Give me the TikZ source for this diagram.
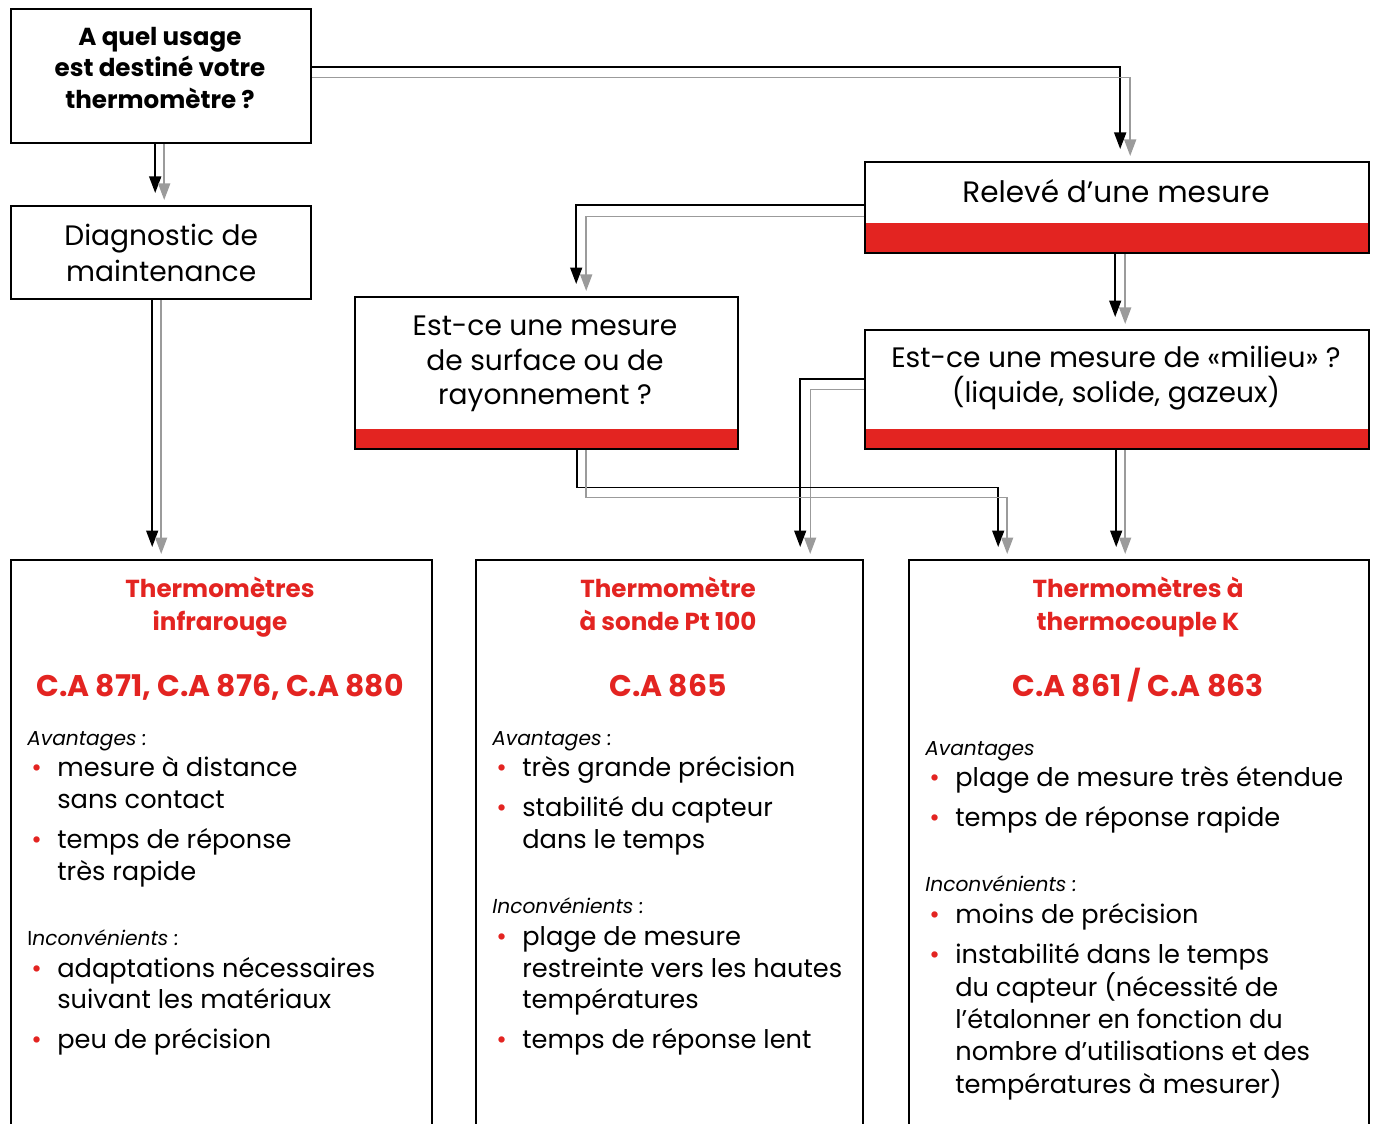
\documentclass[tikz,border=0pt]{standalone}
\usepackage{fontspec}
\setmainfont{Poppins}
\usetikzlibrary{arrows.meta,calc}
\definecolor{rouge}{RGB}{227,36,33}
\definecolor{grisfl}{RGB}{155,155,155}
\newcommand{\puce}{\hspace*{0.08cm}\textcolor{rouge}{\textbullet}}
\newcommand{\entete}{\fontsize{11.5}{18}\selectfont\itshape}
\newcommand{\ecart}{4.5pt}
\newcommand{\grandecart}{19pt}
\begin{document}
\begin{tikzpicture}[x=0.02cm, y=-0.02cm,
    boite/.style={draw, line width=1.4pt, anchor=north west, inner sep=0pt, align=center},
    bande/.style={path picture={\fill[rouge] (path picture bounding box.south west)
        rectangle ([yshift=#1]path picture bounding box.south east);}},
    texteboite/.style={align=center, inner sep=0pt, font=\fontsize{16}{19.8}\selectfont},
    titre/.style={anchor=base, align=center, inner sep=0pt, text=rouge,
        font=\fontsize{14}{18.7}\selectfont\bfseries},
    modele/.style={anchor=base, inner sep=0pt, text=rouge, font=\fontsize{17}{19}\selectfont\bfseries},
    liste/.style={anchor=base west, inner sep=0pt, font=\fontsize{14.6}{18.1}\selectfont},
    fleche/.style={-{Triangle[width=0.24cm, length=0.33cm]}},
    noir/.style={fleche, black, line width=0.9pt, shorten >=0.24cm},
    gris/.style={fleche, grisfl, line width=0.8pt, shorten >=0.1cm}]
  \useasboundingbox (0,0) rectangle (1375,1124);

  % questions
  \node[boite, minimum width=6cm, minimum height=2.68cm] (q) at (10,8) {};
  \node[align=center, inner sep=0pt, font=\fontsize{14}{18.1}\selectfont\bfseries] (qT) at (160,68)
    {A quel usage\\est destiné votre\\thermomètre ?};
  \node[boite, minimum width=6cm, minimum height=1.86cm,
    font=\fontsize{16}{20.4}\selectfont] (diag) at (10,205)
    {Diagnostic de\\maintenance};
  \node[boite, bande=0.6cm, minimum width=10.08cm, minimum height=1.82cm] (releve) at (864,161) {};
  \node[texteboite, font=\fontsize{16.8}{19.8}\selectfont] (releveT) at (1116,191) {Relevé d’une mesure};
  \node[boite, bande=0.4cm, minimum width=7.66cm, minimum height=3.04cm] (surface) at (354,296) {};
  \node[texteboite] (surfaceT) at (545,364)
    {Est-ce une mesure\\de surface ou de\\rayonnement ?};
  \node[boite, bande=0.4cm, minimum width=10.08cm, minimum height=2.38cm] (milieu) at (864,329) {};
  \node[texteboite] (milieuT) at (1116,378)
    {Est-ce une mesure de «milieu» ?\\(liquide, solide, gazeux)};

  % thermometres
  \node[boite, minimum width=8.42cm, minimum height=12.8cm] (ir) at (10,559) {};
  \node[boite, minimum width=7.74cm, minimum height=12.8cm] (pt) at (475,559) {};
  \node[boite, minimum width=9.2cm, minimum height=12.8cm] (tc) at (908,559) {};

  \node[titre] (irT) at (220,630) {Thermomètres\\infrarouge};
  \node[titre] (ptT) at (668,630) {Thermomètre\\à sonde Pt 100};
  \node[titre] (tcT) at (1138,630) {Thermomètres à\\thermocouple K};
  \node[modele] (irM) at (220,696) {C.A 871, C.A 876, C.A 880};
  \node[modele] (ptM) at (668,696) {C.A 865};
  \node[modele] (tcM) at (1138,696) {C.A 861 / C.A 863};

  \node[liste] (irL) at (27,745) {%
    \begin{tabular}[t]{@{}p{0.6cm}@{}l@{}}
      \multicolumn{2}{@{}l@{}}{\entete Avantages :}\\
      \puce & mesure à distance\\
            & sans contact\\[\ecart]
      \puce & temps de réponse\\
            & très rapide\\[\grandecart]
      \multicolumn{2}{@{}l@{}}{\entete {\upshape I}nconvénients :}\\
      \puce & adaptations nécessaires\\
            & suivant les matériaux\\[\ecart]
      \puce & peu de précision
    \end{tabular}};
  \node[liste] (ptL) at (492,745) {%
    \begin{tabular}[t]{@{}p{0.6cm}@{}l@{}}
      \multicolumn{2}{@{}l@{}}{\entete Avantages :}\\
      \puce & très grande précision\\[\ecart]
      \puce & stabilité du capteur\\
            & dans le temps\\[\grandecart]
      \multicolumn{2}{@{}l@{}}{\entete Inconvénients :}\\
      \puce & plage de mesure\\
            & restreinte vers les hautes\\
            & températures\\[\ecart]
      \puce & temps de réponse lent
    \end{tabular}};
  \node[liste] (tcL) at (925,755) {%
    \begin{tabular}[t]{@{}p{0.6cm}@{}l@{}}
      \multicolumn{2}{@{}l@{}}{\entete Avantages}\\
      \puce & plage de mesure très étendue\\[\ecart]
      \puce & temps de réponse rapide\\[\grandecart]
      \multicolumn{2}{@{}l@{}}{\entete Inconvénients :}\\
      \puce & moins de précision\\[\ecart]
      \puce & instabilité dans le temps\\
            & du capteur (nécessité de\\
            & l’étalonner en fonction du\\
            & nombre d’utilisations et des\\
            & températures à mesurer)
    \end{tabular}};

  % fleches doubles
  \draw[noir] ($(q.south)+(-6,0)$) -- ($(diag.north)+(-6,0)$);
  \draw[gris] ($(q.south)+(3,0)$) -- ($(diag.north)+(3,0)$);
  \draw[noir] ($(q.east)+(0,-9)$) -| ($(releve.north)+(3,0)$);
  \draw[gris] ($(q.east)+(0,1)$) -| ($(releve.north)+(13,0)$);
  \draw[noir] ($(releve.west)+(0,-2.5)$) -| ($(surface.north)+(29.5,0)$);
  \draw[gris] ($(releve.west)+(0,8.5)$) -| ($(surface.north)+(39.5,0)$);
  \draw[noir] ($(releve.south)+(-2,0)$) -- ($(milieu.north)+(-2,0)$);
  \draw[gris] ($(releve.south)+(8,0)$) -- ($(milieu.north)+(8,0)$);
  \draw[noir] ($(diag.south)+(-9,0)$) coordinate (d1) -- (d1 |- ir.north);
  \draw[gris] ($(diag.south)+(0,0)$) coordinate (d2) -- (d2 |- ir.north);
  \draw[noir] ($(milieu.west)+(0,-10.5)$) -| ($(pt.north)+(130.5,0)$);
  \draw[gris] ($(milieu.west)+(0,-0.5)$) -| ($(pt.north)+(140.5,0)$);
  \draw[noir] ($(surface.south)+(30.5,0)$) -- ++(0,37) -| ($(tc.north)+(-141,0)$);
  \draw[gris] ($(surface.south)+(39.5,0)$) -- ++(0,47) -| ($(tc.north)+(-132,0)$);
  \draw[noir] ($(milieu.south)+(-1,0)$) coordinate (m1) -- (m1 |- tc.north);
  \draw[gris] ($(milieu.south)+(8,0)$) coordinate (m2) -- (m2 |- tc.north);
\end{tikzpicture}
\end{document}
